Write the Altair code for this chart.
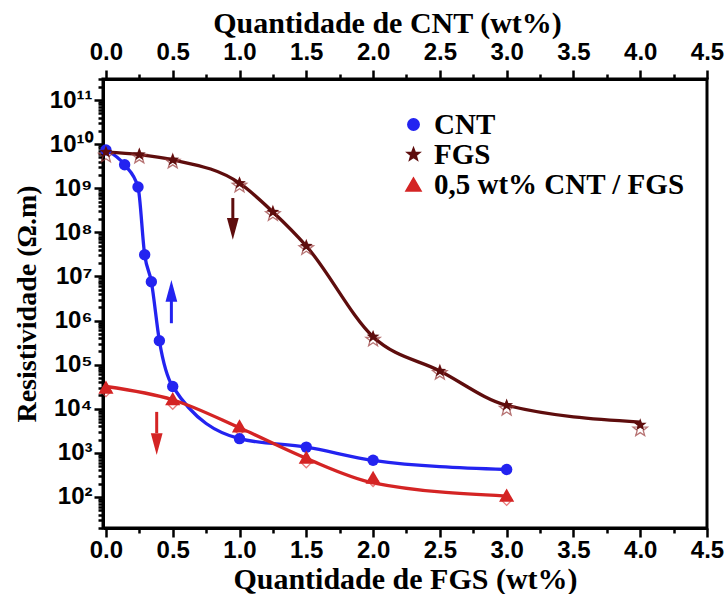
import math

import altair as alt
import pandas as pd

# ---- measured resistivity (Ω.m) ----
# CNT loading (wt%) – read on the top axis
cnt_x = [0.0, 0.14, 0.24, 0.29, 0.34, 0.40, 0.50, 1.0, 1.5, 2.0, 3.0]
cnt_y = [7.4e9, 3.4e9, 1.07e9, 3.1e7, 7.6e6, 3.5e5, 3.2e4, 2.1e3, 1.35e3, 6.8e2, 4.2e2]

# FGS loading (wt%) – filled and open symbols of the two runs
fgs_x = [0.0, 0.25, 0.5, 1.0, 1.25, 1.5, 2.0, 2.5, 3.0, 4.0]
fgs_y = [6.6e9, 5.8e9, 4.4e9, 1.3e9, 2.9e8, 4.9e7, 4.3e5, 7.2e4, 1.2e4, 4.3e3]
fgs_y_open = [5.5e9, 5.2e9, 4.0e9, 1.15e9, 2.6e8, 4.4e7, 3.7e5, 6.5e4, 1.0e4, 3.4e3]
fgs_fit = [6.6e9, 5.8e9, 4.4e9, 1.3e9, 2.9e8, 4.9e7, 4.3e5, 7.2e4, 1.2e4, 5.0e3]

# 0,5 wt% CNT / FGS hybrid
mix_x = [0.0, 0.5, 1.0, 1.5, 2.0, 3.0]
mix_y = [3.1e4, 1.7e4, 4.1e3, 8.0e2, 2.8e2, 1.1e2]
mix_y_open = [2.5e4, 1.3e4, 3.3e3, 6.1e2, 2.3e2, 8.6e1]
mix_fit = [3.2e4, 1.6e4, 3.7e3, 7.5e2, 2.1e2, 1.05e2]

series_names = ["CNT", "FGS", "0,5 wt% CNT / FGS"]
series_colors = ["#2323f0", "#5e0d0d", "#d42424"]
series_sizes = [130, 230, 120]

# trend arrows: x position, tail, head base and tip value, colour, direction
arrow_x = [0.95, 0.49, 0.38]
arrow_tail = [6.0e8, 8.7e5, 8.5e3]
arrow_neck = [1.9e8, 2.9e6, 2.8e3]
arrow_tip = [6.8e7, 8.3e6, 8.9e2]
arrow_color = ["#5e0d0d", "#2323f0", "#d42424"]
arrow_dir = ["down", "up", "down"]

# axis ticks
x_major = [0.0, 0.5, 1.0, 1.5, 2.0, 2.5, 3.0, 3.5, 4.0, 4.5]
x_minor = [0.25, 0.75, 1.25, 1.75, 2.25, 2.75, 3.25, 3.75, 4.25]
y_major = [10.0 ** k for k in range(2, 12)]
y_minor = [m * 10.0 ** k for k in range(1, 12) for m in range(2, 10)
           if 19.8 <= m * 10.0 ** k <= 3.0e11]

# five-pointed star symbol in the unit square
STAR = "M" + "L".join(
    "{:.3f},{:.3f}".format((1.0 if i % 2 == 0 else 0.42) * math.cos(math.radians(-90 + 36 * i)),
                           (1.0 if i % 2 == 0 else 0.42) * math.sin(math.radians(-90 + 36 * i)))
    for i in range(10)
) + "Z"
# arrowheads with the tip at the symbol origin
HEAD_DOWN = "M-0.27,-1L0.27,-1L0,0Z"
HEAD_UP = "M-0.27,1L0.27,1L0,0Z"
series_shapes = ["circle", STAR, "triangle-up"]

# ---- tables ----
labels_col = ["CNT"] * len(cnt_x) + ["FGS"] * len(fgs_x) + [series_names[2]] * len(mix_x)
points = pd.DataFrame({"series": labels_col, "x": cnt_x + fgs_x + mix_x,
                       "y": cnt_y + fgs_y + mix_y})
fits = pd.DataFrame({"series": labels_col, "x": cnt_x + fgs_x + mix_x,
                     "y": cnt_y + fgs_fit + mix_fit})
open_stars = pd.DataFrame({"x": fgs_x, "y": fgs_y_open})
open_diamonds = pd.DataFrame({"x": mix_x, "y": mix_y_open})
arrows = pd.DataFrame({"x": arrow_x, "tail": arrow_tail, "neck": arrow_neck,
                       "tip": arrow_tip, "color": arrow_color, "dir": arrow_dir})

x_scale = alt.Scale(domain=[-0.022, 4.5], nice=False, zero=False)
y_scale = alt.Scale(type="log", domain=[19.8, 3.0e11], nice=False)

sup = ["⁰", "¹", "²", "³", "⁴", "⁵", "⁶", "⁷", "⁸", "⁹", "¹⁰", "¹¹"]
sup_expr = "['" + "','".join(sup) + "']"
y_label_expr = "'10' + " + sup_expr + "[round(log(datum.value) / LN10)]"

TICK_FONT = "Liberation Sans"
TITLE_FONT = "Liberation Serif"


def xy(xf="x", yf="y"):
    return dict(x=alt.X(f"{xf}:Q", scale=x_scale, axis=None),
                y=alt.Y(f"{yf}:Q", scale=y_scale, axis=None))


legend = alt.Legend(title=None, orient="none", legendX=296, legendY=31,
                    labelFont=TITLE_FONT, labelFontWeight="bold",
                    labelFontSize=29, labelColor="black", labelLimit=0,
                    rowPadding=0, labelOffset=6)
color_enc = alt.Color("series:N", scale=alt.Scale(domain=series_names, range=series_colors),
                      legend=legend)

# fitted curves, carrying the main bottom / left axes
lines = alt.Chart(fits).mark_line(interpolate="monotone", strokeWidth=3.3).encode(
    x=alt.X("x:Q", scale=x_scale,
            axis=alt.Axis(orient="bottom", values=x_major, format=".1f", tickSize=9,
                          labelFlush=False, labelPadding=1,
                          title="Quantidade de FGS (wt%)",
                          titlePadding=2, titleFontSize=30)),
    y=alt.Y("y:Q", scale=y_scale,
            axis=alt.Axis(orient="left", values=y_major, labelExpr=y_label_expr, tickSize=9,
                          title="Resistividade (Ω.m)", titlePadding=8)),
    color=color_enc,
)

filled = alt.Chart(points).mark_point(filled=True, opacity=1).encode(
    **xy(),
    color=color_enc,
    shape=alt.Shape("series:N", scale=alt.Scale(domain=series_names, range=series_shapes),
                    legend=legend),
    size=alt.Size("series:N", scale=alt.Scale(domain=series_names, range=series_sizes),
                  legend=legend),
)

stars_open = alt.Chart(open_stars).mark_point(
    filled=False, shape=STAR, size=230, strokeWidth=1.3, color="#9a3a3a"
).encode(**xy())

diamonds_open = alt.Chart(open_diamonds).mark_point(
    filled=False, shape="diamond", size=120, strokeWidth=1.3, color="#e04040"
).encode(**xy())

arrow_layers = []
for c in arrow_color:
    sub = alt.Chart(arrows).transform_filter(alt.datum.color == c)
    direction = arrows.loc[arrows["color"] == c, "dir"].iloc[0]
    head = HEAD_DOWN if direction == "down" else HEAD_UP
    arrow_layers.append(sub.mark_rule(strokeWidth=3, color=c).encode(
        **xy(yf="tail"), y2="neck:Q"))
    arrow_layers.append(sub.mark_point(filled=True, opacity=1, size=1900, color=c,
                                       shape=head, strokeWidth=0).encode(**xy(yf="tip")))

# top axis (CNT loading) and minor ticks
top_axis = alt.Chart(points).mark_point(opacity=0).encode(
    x=alt.X("x:Q", scale=x_scale,
            axis=alt.Axis(orient="top", values=x_major, format=".1f", tickSize=9,
                          labelFlush=False, labelPadding=6,
                          title="Quantidade de CNT (wt%)", titlePadding=2,
                          titleFontSize=30, titleX=284)),
    y=alt.Y("y:Q", scale=y_scale, axis=None),
)
minor_bottom_left = alt.Chart(points).mark_point(opacity=0).encode(
    x=alt.X("x:Q", scale=x_scale,
            axis=alt.Axis(orient="bottom", values=x_minor, labels=False, domain=False,
                          tickSize=5, title=None)),
    y=alt.Y("y:Q", scale=y_scale,
            axis=alt.Axis(orient="left", values=y_minor, labels=False, domain=False,
                          tickSize=5, title=None)),
)
minor_top = alt.Chart(points).mark_point(opacity=0).encode(
    x=alt.X("x:Q", scale=x_scale,
            axis=alt.Axis(orient="top", values=x_minor, labels=False, domain=False,
                          tickSize=5, title=None)),
    y=alt.Y("y:Q", scale=y_scale, axis=None),
)

chart = alt.layer(
    lines, top_axis, minor_bottom_left, minor_top,
    stars_open, diamonds_open, filled, *arrow_layers,
).resolve_axis(
    x="independent", y="independent"
).properties(
    width=604, height=449,
    autosize=alt.AutoSizeParams(type="none"),
    padding={"left": 103, "top": 79, "right": 18, "bottom": 66},
).configure_view(
    stroke="black", strokeWidth=3
).configure_axis(
    grid=False,
    labelFont=TICK_FONT, labelFontWeight="bold", labelFontSize=24, labelColor="black",
    labelPadding=2,
    titleFont=TITLE_FONT, titleFontWeight="bold", titleFontSize=28, titleColor="black",
    domainColor="black", domainWidth=3, tickColor="black", tickWidth=2.5,
)

chart.save("out.html", embed_options={"renderer": "svg", "actions": False})
